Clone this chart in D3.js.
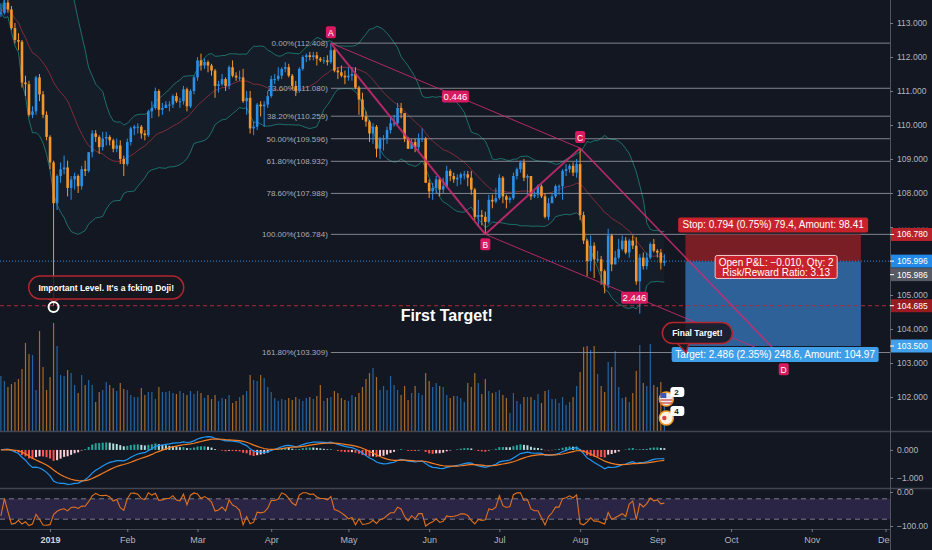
<!DOCTYPE html>
<html>
<head>
<meta charset="utf-8">
<script src="https://cdn.jsdelivr.net/npm/d3@7/dist/d3.min.js"></script>
<style>
  body { margin: 0; background: #131722; overflow: hidden; }
  svg text { font-family: "Liberation Sans", Arial, sans-serif; }
</style>
</head>
<body>
<div id="chart"></div>
<script>
// Daily bars, Dec 12 2018 -> Sep 4 2019 (weekdays, no bar on Jan 1)
const opens = [
  113.28,113.30,113.60,113.40,112.85,112.50,112.45,111.25,111.20,110.30,110.40,111.40,110.90,110.30,
  109.65,108.90,107.70,108.50,108.70,108.75,108.15,108.40,108.50,108.20,108.70,108.65,109.20,109.75,109.65,109.35,109.60,109.65,109.55,109.30,109.40,109.00,
  108.85,109.50,109.90,109.95,109.95,109.75,109.70,110.40,110.50,111.00,110.45,110.50,110.60,110.60,110.85,110.70,110.70,111.05,110.55,111.00,
  111.40,111.90,111.75,111.85,111.75,111.60,111.15,111.20,111.35,111.15,111.70,111.45,111.40,111.40,110.70,110.80,109.90,109.95,110.60,110.55,110.60,
  110.85,111.35,111.35,111.45,111.65,111.70,111.45,111.15,111.00,111.65,112.00,112.05,112.00,112.05,111.95,111.90,111.90,111.85,112.20,111.60,111.55,111.45,
  111.40,111.45,111.50,111.10,110.75,110.25,110.10,109.75,109.95,109.30,109.60,109.60,109.85,110.05,110.05,110.50,110.35,109.60,109.30,109.50,109.35,109.60,109.60,
  108.30,108.05,108.15,108.40,108.10,108.20,108.65,108.50,108.40,108.45,108.55,108.55,108.45,108.10,107.30,107.35,107.30,107.15,107.80,107.75,
  107.85,108.45,107.90,107.80,107.85,108.50,108.70,108.90,108.45,108.50,107.90,107.95,108.20,107.90,107.30,107.70,107.90,108.20,108.20,108.65,108.70,108.80,108.60,
  108.85,107.35,106.60,106.00,106.45,106.05,106.05,105.70,105.30,106.75,105.90,106.10,106.35,106.60,106.25,106.60,106.45,105.40,106.10,105.85,106.10,106.50,
  106.30,106.25,105.95
];
const highs = [
  113.58,113.70,113.70,113.50,113.00,112.70,112.50,111.45,111.30,110.55,111.45,111.50,111.00,110.40,
  109.70,108.95,108.55,108.90,109.10,108.95,108.50,108.60,108.55,108.80,108.95,109.20,109.85,109.85,109.70,109.80,109.80,109.70,109.60,109.60,109.55,109.10,
  109.60,109.95,110.00,110.05,110.00,109.85,110.45,110.70,111.10,111.05,110.65,110.70,110.70,110.90,110.95,110.80,111.15,111.10,111.05,111.45,
  112.00,112.10,111.95,111.90,111.80,111.65,111.30,111.50,111.40,111.75,111.90,111.55,111.60,111.65,111.00,111.00,110.10,110.65,110.70,110.70,111.00,
  111.45,111.50,111.70,111.70,111.85,111.80,111.50,111.30,111.70,112.05,112.10,112.15,112.15,112.15,112.00,112.00,112.05,112.408,112.25,111.70,111.75,111.60,
  111.70,111.70,111.70,111.15,110.95,110.40,110.15,110.05,110.00,109.65,109.70,109.95,110.25,110.30,110.65,110.65,110.35,109.65,109.60,109.60,109.75,109.90,109.65,
  108.40,108.30,108.50,108.45,108.45,108.80,108.70,108.60,108.55,108.60,108.65,108.65,108.65,108.15,107.80,107.50,107.45,107.95,107.95,108.15,
  108.55,108.50,107.95,107.90,108.60,108.75,108.95,109.00,108.55,108.50,108.05,108.25,108.25,108.00,107.85,108.00,108.25,108.25,108.70,108.85,108.85,108.90,109.00,
  109.32,107.45,106.65,106.75,106.55,106.30,106.15,105.75,106.95,106.80,106.30,106.65,106.75,106.70,106.65,106.75,106.70,106.20,106.25,106.25,106.55,106.65,
  106.35,106.35,106.20
];
const lows = [
  113.18,113.25,113.30,112.80,112.40,112.20,111.10,110.85,110.25,110.20,110.30,110.70,110.20,109.55,
  108.70,104.685,107.50,108.30,108.55,107.90,107.80,108.10,108.00,108.10,108.50,108.60,109.05,109.50,109.15,109.25,109.40,109.40,109.20,109.20,108.85,108.50,
  108.80,109.40,109.70,109.75,109.60,109.55,109.65,110.20,110.45,110.25,110.30,110.50,110.40,110.50,110.65,110.50,110.60,110.40,110.50,110.90,
  111.30,111.60,111.65,111.55,111.45,110.80,110.95,111.15,111.00,111.05,111.40,111.30,111.30,110.65,110.30,109.75,109.70,109.85,110.25,109.95,110.50,
  110.80,111.20,111.30,111.35,111.55,111.40,111.05,110.85,110.95,111.60,111.85,111.90,111.90,111.75,111.85,111.80,111.75,111.80,111.55,111.35,111.40,111.20,
  111.30,111.30,111.05,110.30,110.15,109.95,109.50,109.45,109.05,109.00,109.25,109.45,109.75,109.95,110.00,110.20,109.50,109.30,109.30,109.20,109.25,109.50,108.30,
  107.85,107.80,108.00,107.90,108.00,108.15,108.35,108.30,108.20,108.25,108.40,108.20,107.95,107.20,107.00,107.05,106.784,107.10,107.55,107.70,
  107.80,107.70,107.55,107.70,107.80,108.40,108.60,108.35,107.95,107.80,107.85,107.85,107.85,107.25,107.20,107.70,107.85,107.95,107.80,108.50,108.60,108.50,108.45,
  107.20,106.50,105.55,105.70,105.50,105.95,105.30,105.05,105.20,105.70,105.90,106.05,106.30,106.20,106.10,106.35,105.30,104.45,105.75,105.75,106.05,106.25,
  106.10,105.75,105.85
];
const closes = [
  113.30,113.60,113.40,112.85,112.50,112.45,111.25,111.20,110.30,110.40,111.40,110.90,110.30,109.65,
  108.90,107.70,108.50,108.70,108.75,108.15,108.40,108.50,108.20,108.70,108.65,109.20,109.75,109.65,109.35,109.60,109.65,109.55,109.30,109.40,109.00,108.85,
  109.50,109.90,109.95,109.95,109.75,109.70,110.40,110.50,111.00,110.45,110.50,110.60,110.60,110.85,110.70,110.70,111.05,110.55,111.00,111.40,
  111.90,111.75,111.85,111.75,111.60,111.15,111.20,111.35,111.15,111.70,111.45,111.40,111.40,110.70,110.80,109.90,109.95,110.60,110.55,110.60,110.85,
  111.35,111.35,111.45,111.65,111.70,111.45,111.15,111.00,111.65,112.00,112.05,112.00,112.05,111.95,111.90,111.90,111.85,112.20,111.60,111.55,111.45,111.40,
  111.45,111.50,111.10,110.75,110.25,110.10,109.75,109.95,109.30,109.60,109.60,109.85,110.05,110.05,110.50,110.35,109.60,109.30,109.50,109.35,109.60,109.60,108.30,
  108.05,108.15,108.40,108.10,108.20,108.65,108.50,108.40,108.45,108.55,108.55,108.45,108.10,107.30,107.35,107.30,107.15,107.80,107.75,107.85,
  108.45,107.90,107.80,107.85,108.50,108.70,108.90,108.45,108.50,107.90,107.95,108.20,107.90,107.30,107.70,107.90,108.20,108.20,108.65,108.70,108.80,108.60,108.85,
  107.35,106.60,106.00,106.45,106.05,106.05,105.70,105.30,106.75,105.90,106.10,106.35,106.60,106.25,106.60,106.45,105.40,106.10,105.85,106.10,106.50,106.30,
  106.25,105.95,105.996
];
// volume, thousands
const volumes = [
  55,50,44,47,49,52,62,88,77,76,41,100,64,41,54,108,85,56,55,61,58,46,38,56,46,51,46,29,39,41,
  49,46,43,40,48,42,41,36,34,34,43,36,39,39,32,44,39,39,40,38,37,40,38,36,40,37,40,38,33,36,
  32,36,30,33,32,36,28,30,34,36,40,56,51,50,56,53,44,39,33,30,32,31,33,31,34,32,30,33,34,32,
  35,46,30,33,34,40,38,33,31,30,36,34,38,44,52,58,63,54,41,45,41,55,46,41,36,45,31,38,45,38,
  36,58,50,44,48,45,44,36,33,35,35,33,29,48,44,58,48,37,52,40,38,39,41,36,33,18,38,30,27,34,
  34,34,31,37,28,40,41,32,32,28,34,26,29,34,45,59,84,85,81,85,57,45,39,69,64,80,44,33,34,29,
  38,60,86,48,45,87,46,44,49,30
];

const priceTicks = [102, 103, 104, 105, 106, 107, 108, 109, 110, 111, 112, 113];
const macdTicks = [0, -1];
const wrTicks = [0, -100];
const monthLabels = ["2019", "Feb", "Mar", "Apr", "May", "Jun", "Jul", "Aug", "Sep", "Oct", "Nov", "Dec"];
const monthStarts = ["2019-01-01", "2019-02-01", "2019-03-01", "2019-04-01", "2019-05-01", "2019-06-01",
                     "2019-07-01", "2019-08-01", "2019-09-01", "2019-10-01", "2019-11-01", "2019-12-01"];

// fib retracement A -> B
const fibLevels = ["0.00%", "23.60%", "38.20%", "50.00%", "61.80%", "78.60%", "100.00%", "161.80%"];
const fibPrices = [112.408, 111.080, 110.259, 109.596, 108.932, 107.988, 106.784, 103.309];

// ABCD pattern (bar index, price)
const patternNames = ["A", "B", "C", "D"];
const patternBars = [94, 138, 165, 223];
const patternPrices = [112.408, 106.784, 109.32, 103.11];
const patternRatios = ["0.446", "2.446"];

// short position tool
const entryPrice = 105.986, stopPrice = 106.780, targetPrice = 103.500;
const lastPrice = 105.996, dojiLow = 104.685;

// trading calendar
const fmtDay = d3.timeFormat("%Y-%m-%d");
const skipDays = ["2019-01-01"];
const days = [];
for (let d = new Date(2018, 11, 12); days.length < 260; d.setDate(d.getDate() + 1)) {
    const wd = d.getDay();
    if (wd !== 0 && wd !== 6 && !skipDays.includes(fmtDay(d))) days.push(new Date(d));
}
const barOf = s => days.findIndex(d => fmtDay(d) >= s);

const W = 932, H = 550, paneR = 890;
const mainBottom = 431, macdTop = 432, macdBottom = 488, wrTop = 489, wrBottom = 529;

const x = d3.scaleLinear().domain([-0.26, 253]).range([0, 889]);
const y = d3.scaleLinear().domain([102, 113]).range([397, 23]);
const yVol = d3.scaleLinear().domain([0, 110]).range([mainBottom, 321]);
const yMacd = d3.scaleLinear().domain([-1.36, 0.64]).range([macdBottom, macdTop]);
const yWr = d3.scaleLinear().domain([-100, 0]).range([526, 492]);

const upCol = "#2a8fe8", dnCol = "#f5962a";
const colOf = i => closes[i] >= opens[i] ? upCol : dnCol;
const bars = d3.range(closes.length);

const svg = d3.select("#chart").append("svg")
    .attr("width", W).attr("height", H);
svg.append("rect").attr("width", W).attr("height", H).attr("fill", "#131722");

const defs = svg.append("defs");
defs.append("clipPath").attr("id", "cMain").append("rect").attr("width", paneR).attr("height", mainBottom);
defs.append("clipPath").attr("id", "cMacd").append("rect").attr("y", macdTop).attr("width", paneR).attr("height", macdBottom - macdTop);
defs.append("clipPath").attr("id", "cWr").append("rect").attr("y", wrTop).attr("width", paneR).attr("height", wrBottom - wrTop);
defs.append("clipPath").attr("id", "cTime").append("rect").attr("y", wrBottom).attr("width", paneR).attr("height", H - wrBottom);
defs.append("clipPath").attr("id", "cTick107").append("rect").attr("width", W).attr("height", y(107) - 1);

const main = svg.append("g").attr("clip-path", "url(#cMain)");

// Bollinger bands 20,2
const bb = bars.map(i => {
    const w = closes.slice(Math.max(0, i - 19), i + 1);
    const m = d3.mean(w);
    const sd = Math.sqrt(d3.mean(w, v => (v - m) ** 2));
    return { i, mid: m, up: m + 2 * sd, lo: m - 2 * sd };
});
main.append("path").datum(bb)
    .attr("fill", "rgba(38,166,154,0.05)")
    .attr("d", d3.area().x(d => x(d.i)).y0(d => y(d.lo)).y1(d => y(d.up)));
["up", "lo"].forEach(k => {
    main.append("path").datum(bb)
        .attr("fill", "none").attr("stroke", "#26a69a").attr("stroke-opacity", 0.6).attr("stroke-width", 1)
        .attr("d", d3.line().x(d => x(d.i)).y(d => y(d[k])));
});
main.append("path").datum(bb)
    .attr("fill", "none").attr("stroke", "#a3313d").attr("stroke-opacity", 0.75).attr("stroke-width", 1)
    .attr("d", d3.line().x(d => x(d.i)).y(d => y(d.mid)));

// volume
main.selectAll("rect.vol").data(bars).join("rect")
    .attr("class", "vol")
    .attr("x", i => x(i) - 0.6).attr("width", 1.2)
    .attr("y", i => yVol(volumes[i]))
    .attr("height", i => yVol(0) - yVol(volumes[i]))
    .attr("fill", colOf).attr("opacity", 0.65);

// fib lines
const fibX0 = x(patternBars[0]);
fibPrices.forEach((p, k) => {
    main.append("line")
        .attr("x1", fibX0).attr("x2", paneR).attr("y1", y(p)).attr("y2", y(p))
        .attr("stroke", "#9598a1").attr("stroke-opacity", 0.85).attr("stroke-width", 1);
    main.append("text")
        .attr("x", fibX0 - 3).attr("y", y(p) + 3)
        .attr("text-anchor", "end").attr("font-size", 8).attr("fill", "#a9acb5")
        .text(`${fibLevels[k]}(${p.toFixed(3)})`);
});

// position zones
const px0 = x(195), px1 = x(245);
main.append("rect").attr("x", px0).attr("width", px1 - px0)
    .attr("y", y(stopPrice)).attr("height", y(entryPrice) - y(stopPrice)).attr("fill", "#7a1e26");
main.append("rect").attr("x", px0).attr("width", px1 - px0)
    .attr("y", y(entryPrice)).attr("height", y(targetPrice) - y(entryPrice)).attr("fill", "#2f6199");

// price lines
main.append("line").attr("x1", 0).attr("x2", paneR).attr("y1", y(dojiLow)).attr("y2", y(dojiLow))
    .attr("stroke", "#b22833").attr("stroke-dasharray", "4,3");
main.append("line").attr("x1", 0).attr("x2", paneR).attr("y1", y(lastPrice)).attr("y2", y(lastPrice))
    .attr("stroke", "#2a8fe8").attr("stroke-dasharray", "1,2");

// candles
const cg = main.selectAll("g.candle").data(bars).join("g").attr("class", "candle");
cg.append("line")
    .attr("x1", i => x(i)).attr("x2", i => x(i))
    .attr("y1", i => y(highs[i])).attr("y2", i => y(lows[i]))
    .attr("stroke", colOf).attr("stroke-width", 1);
cg.append("rect")
    .attr("x", i => x(i) - 1.3).attr("width", 2.6)
    .attr("y", i => y(Math.max(opens[i], closes[i])))
    .attr("height", i => Math.max(1, Math.abs(y(opens[i]) - y(closes[i]))))
    .attr("fill", colOf);

// ABCD pattern
const pt = k => [x(patternBars[k]), y(patternPrices[k])];
const pink = "#d02a72";
[[0, 1, 2], [1, 2, 2], [2, 3, 1.5], [0, 2, 1], [1, 3, 1]].forEach(([a, b, w]) => {
    main.append("line")
        .attr("x1", pt(a)[0]).attr("y1", pt(a)[1]).attr("x2", pt(b)[0]).attr("y2", pt(b)[1])
        .attr("stroke", pink).attr("stroke-opacity", 0.85).attr("stroke-width", w);
});
const tag = (cx, cy, txt, w) => {
    main.append("rect").attr("x", cx - w / 2).attr("y", cy - 6).attr("width", w).attr("height", 12)
        .attr("rx", 2).attr("fill", "#d81b60");
    main.append("text").attr("x", cx).attr("y", cy + 3.5).attr("text-anchor", "middle")
        .attr("font-size", txt.length > 1 ? 9.5 : 8.5).attr("fill", "#fff").text(txt);
};
patternNames.forEach((n, k) => {
    const [px, py] = pt(k);
    tag(px, py + (k % 2 === 0 ? -11 : 10), n, 10);
});
[[0, 2], [1, 3]].forEach(([a, b], k) => {
    tag((pt(a)[0] + pt(b)[0]) / 2, (pt(a)[1] + pt(b)[1]) / 2 + 1, patternRatios[k], 27);
});

// position labels
const pmid = (px0 + px1) / 2;
const box = (cx, yTop, w, h, fill, lines, stroke) => {
    main.append("rect").attr("x", cx - w / 2).attr("y", yTop).attr("width", w).attr("height", h)
        .attr("rx", 2).attr("fill", fill).attr("stroke", stroke || "none").attr("stroke-width", 1);
    lines.forEach((t, k) => {
        main.append("text").attr("x", cx).attr("y", yTop + 11 + k * 10).attr("text-anchor", "middle")
            .attr("font-size", 10).attr("fill", "#fff").text(t);
    });
};
box(pmid, y(stopPrice) - 17, 190, 15, "#c8232c", ["Stop: 0.794 (0.75%) 79.4, Amount: 98.41"]);
box(pmid + 3, y(entryPrice) - 6, 122, 23, "#c8232c", ["Open P&L: \u22120.010, Qty: 2", "Risk/Reward Ratio: 3.13"], "#f3c6c9");
box(pmid + 2, y(targetPrice) + 1, 207, 15, "#3f9ee8", ["Target: 2.486 (2.35%) 248.6, Amount: 104.97"]);

// callouts
const bubble = (cx, cy, w, h, txt, tail) => {
    main.append("path")
        .attr("d", `M${tail[0][0]},${tail[0][1]}L${tail[1][0]},${tail[1][1]}L${tail[2][0]},${tail[2][1]}`)
        .attr("fill", "#1a1b26").attr("stroke", "#b3262e").attr("stroke-width", 1.5);
    main.append("rect").attr("x", cx - w / 2).attr("y", cy - h / 2).attr("width", w).attr("height", h)
        .attr("rx", h / 2).attr("fill", "#17161f").attr("fill-opacity", 0.85)
        .attr("stroke", "#b3262e").attr("stroke-width", 1.5);
    main.append("text").attr("x", cx).attr("y", cy + 3).attr("text-anchor", "middle")
        .attr("font-size", 8.5).attr("font-weight", "bold").attr("fill", "#fff").text(txt);
};
const dx = x(15), dy = y(104.65);
bubble(x(30), y(105.22), 155, 23, "Important Level. It's a fcking Doji!",
    [[dx - 5, y(105.22) + 11], [dx, dy - 5], [dx + 6, y(105.22) + 11]]);
main.append("circle").attr("cx", dx).attr("cy", dy).attr("r", 5)
    .attr("fill", "none").attr("stroke", "#fff").attr("stroke-width", 2);

const tx = x(195.2), ty = y(103.31);
bubble(x(198.4), y(103.88), 70, 21, "Final Target!",
    [[tx - 10, y(103.88) + 9], [tx, ty], [tx + 3, y(103.88) + 10]]);

main.append("text").attr("x", x(127)).attr("y", y(104.235)).attr("text-anchor", "middle")
    .attr("font-size", 16).attr("font-weight", "bold").attr("fill", "#fff").text("First Target!");

// event markers
const ex = x(189) + 2;
[[399, "2", "#e9eaf0"], [418, "4", "#fff4e3"]].forEach(([ey, n, f], k) => {
    main.append("circle").attr("cx", ex).attr("cy", ey).attr("r", 7)
        .attr("fill", f).attr("stroke", "#f59a23").attr("stroke-width", 1.5);
    if (k === 0) {
        main.append("rect").attr("x", ex - 6).attr("y", ey - 6).attr("width", 6).attr("height", 5).attr("fill", "#3c5ba9");
        [ey + 1, ey + 4].forEach(sy => main.append("line").attr("x1", ex - 6).attr("x2", ex + 6)
            .attr("y1", sy).attr("y2", sy).attr("stroke", "#d23c3c").attr("stroke-width", 1.2));
    } else {
        main.append("circle").attr("cx", ex - 2).attr("cy", ey).attr("r", 2.2).attr("fill", "#e0403f");
    }
    main.append("rect").attr("x", ex + 4).attr("y", ey - 12).attr("width", 14).attr("height", 10)
        .attr("rx", 3).attr("fill", "#fff");
    main.append("text").attr("x", ex + 8).attr("y", ey - 4).attr("font-size", 8).attr("font-weight", "bold")
        .attr("fill", "#131722").text(n);
});

// MACD 12,26,9
function ema(arr, n) {
    const k = 2 / (n + 1), out = [arr[0]];
    for (let i = 1; i < arr.length; i++) out.push(arr[i] * k + out[i - 1] * (1 - k));
    return out;
}
const e12 = ema(closes, 12), e26 = ema(closes, 26);
const macd = closes.map((c, i) => e12[i] - e26[i]);
const signal = ema(macd, 9);
const hist = macd.map((m, i) => m - signal[i]);
const gMacd = svg.append("g").attr("clip-path", "url(#cMacd)");
gMacd.selectAll("rect").data(bars).join("rect")
    .attr("x", i => x(i) - 1).attr("width", 2)
    .attr("y", i => Math.min(yMacd(0), yMacd(hist[i])))
    .attr("height", i => Math.abs(yMacd(hist[i]) - yMacd(0)))
    .attr("fill", i => {
        const p = i > 0 ? hist[i - 1] : 0;
        if (hist[i] >= 0) return hist[i] > p ? "#26a69a" : "#b2dfdb";
        return hist[i] < p ? "#ff5252" : "#ffcdd2";
    });
gMacd.append("path").datum(bars).attr("fill", "none").attr("stroke", "#2196f3").attr("stroke-width", 1.2)
    .attr("d", d3.line().x(i => x(i)).y(i => yMacd(macd[i])));
gMacd.append("path").datum(bars).attr("fill", "none").attr("stroke", "#f57c22").attr("stroke-width", 1.2)
    .attr("d", d3.line().x(i => x(i)).y(i => yMacd(signal[i])));

// Williams %R 14
const wr = bars.map(i => {
    const s = Math.max(0, i - 13);
    const hh = d3.max(highs.slice(s, i + 1)), ll = d3.min(lows.slice(s, i + 1));
    return hh === ll ? -50 : (hh - closes[i]) / (hh - ll) * -100;
});
const gWr = svg.append("g").attr("clip-path", "url(#cWr)");
gWr.append("rect").attr("x", 0).attr("width", paneR)
    .attr("y", yWr(-20)).attr("height", yWr(-80) - yWr(-20)).attr("fill", "rgba(126,87,194,0.22)");
[-20, -80].forEach(v => gWr.append("line").attr("x1", 0).attr("x2", paneR).attr("y1", yWr(v)).attr("y2", yWr(v))
    .attr("stroke", "#787b86").attr("stroke-dasharray", "5,4"));
gWr.append("path").datum(bars).attr("fill", "none").attr("stroke", "#e0711f").attr("stroke-width", 1.1)
    .attr("d", d3.line().x(i => x(i)).y(i => yWr(wr[i])));

// pane borders
[mainBottom + 0.5, macdBottom + 0.5].forEach(ly => svg.append("line").attr("x1", 0).attr("x2", W)
    .attr("y1", ly).attr("y2", ly).attr("stroke", "#434651").attr("stroke-width", 1.5));
svg.append("line").attr("x1", 0).attr("x2", paneR).attr("y1", wrBottom + 0.5).attr("y2", wrBottom + 0.5)
    .attr("stroke", "#434651");
svg.append("line").attr("x1", paneR + 0.5).attr("x2", paneR + 0.5).attr("y1", 0).attr("y2", H)
    .attr("stroke", "#50535e");

// axes
const styleAxis = g => {
    g.select(".domain").remove();
    g.selectAll("line").attr("stroke", "#787b86");
    g.selectAll("text").attr("fill", "#b2b5be").attr("font-size", 8.5)
        .attr("font-family", "'Liberation Sans', Arial, sans-serif");
};
const gPrice = svg.append("g").attr("transform", `translate(${paneR},0)`)
    .call(d3.axisRight(y).tickValues(priceTicks).tickSize(3).tickPadding(4).tickFormat(d3.format(".3f")))
    .call(styleAxis);
// the 107 label sits half under the stop tag, as on the chart
gPrice.selectAll(".tick").filter(d => d === 107).select("text").attr("clip-path", "url(#cTick107)");
svg.append("g").attr("transform", `translate(${paneR},0)`)
    .call(d3.axisRight(yMacd).tickValues(macdTicks).tickSize(3).tickPadding(4).tickFormat(d3.format(".3f")))
    .call(styleAxis);
svg.append("g").attr("transform", `translate(${paneR},0)`)
    .call(d3.axisRight(yWr).tickValues(wrTicks).tickSize(3).tickPadding(4).tickFormat(d3.format(".2f")))
    .call(styleAxis);

const monthBars = monthStarts.map(barOf);
svg.append("g").attr("clip-path", "url(#cTime)")
    .append("g").attr("transform", `translate(0,${wrBottom})`)
    .call(d3.axisBottom(x).tickValues(monthBars).tickSize(3).tickPadding(5)
        .tickFormat((d, k) => monthLabels[k]))
    .call(styleAxis)
    .call(g => g.selectAll("text").attr("font-size", 9)
        .attr("font-weight", (d, k) => k === 0 ? "bold" : null)
        .attr("fill", (d, k) => k === 0 ? "#d1d4dc" : "#b2b5be"));

// price labels on the axis
const priceTag = (p, yy, fill) => {
    svg.append("rect").attr("x", paneR + 1).attr("y", yy - 6.5).attr("width", W - paneR).attr("height", 13).attr("fill", fill);
    svg.append("line").attr("x1", paneR).attr("x2", paneR + 4).attr("y1", yy).attr("y2", yy).attr("stroke", "#fff");
    svg.append("text").attr("x", paneR + 7).attr("y", yy + 3).attr("font-size", 8.5).attr("fill", "#fff").text(p.toFixed(3));
};
priceTag(stopPrice, y(stopPrice), "#b8232b");
priceTag(lastPrice, y(lastPrice), "#2389e8");
priceTag(entryPrice, y(lastPrice) + 13.5, "#575a64");
priceTag(dojiLow, y(dojiLow), "#9a1c22");
priceTag(targetPrice, y(targetPrice), "#42a0ec");
</script>
</body>
</html>
